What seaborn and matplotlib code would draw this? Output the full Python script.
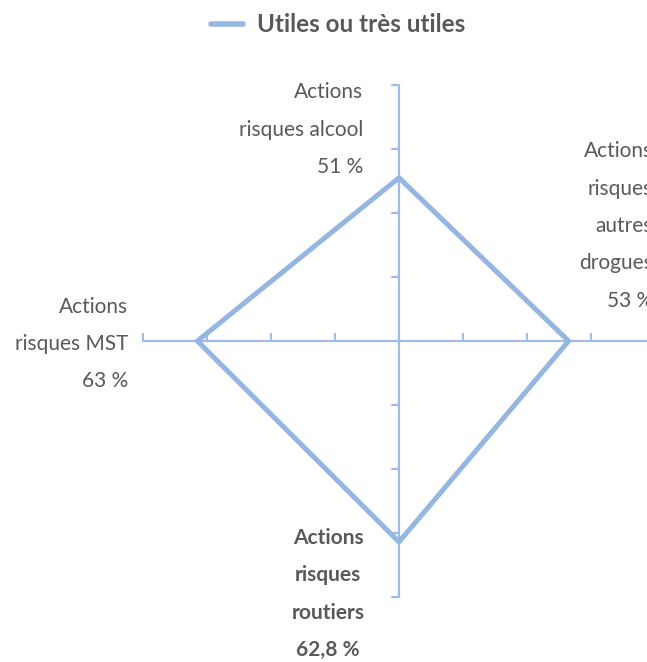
import matplotlib as mpl
import matplotlib.pyplot as plt
import seaborn as sns
import pandas as pd
import numpy as np

categories = ['Actions risques alcool', 'Actions risques autres drogues',
              'Actions risques routiers', 'Actions risques MST']
values = [51, 53, 62.8, 63]
value_labels = ['51 %', '53 %', '62,8 %', '63 %']
series_name = 'Utiles ou très utiles'
axis_max = 80
tick_step = 20

sns.set_theme(style='white')
plt.rcParams['font.family'] = ['Lato', 'DejaVu Sans']

BLUE = '#94b6e0'
AXIS = '#9dbde6'
GREY = '#595959'

W, H = 647, 662
CX, CY = 399, 341          # centre of the radar, pixels from top-left
PX = 3.2                   # pixels per percent

fig = plt.figure(figsize=(W / 100, H / 100), dpi=100)
ax = fig.add_axes([0, 0, 1, 1])
ax.set_xlim(-CX / PX, (W - CX) / PX)
ax.set_ylim(-(H - CY) / PX, CY / PX)
ax.set_axis_off()

def px(x, y):
  return (x - CX) / PX, (CY - y) / PX

# radar axes (clockwise from top)
angles = np.pi / 2 - np.arange(len(categories)) * 2 * np.pi / len(categories)
for a in angles:
  ex, ey = axis_max * np.cos(a), axis_max * np.sin(a)
  ax.plot([0, ex], [0, ey], color=AXIS, lw=1.6, zorder=1, solid_capstyle='butt')
  for t in np.arange(tick_step, axis_max + 1, tick_step):
    tx, ty = t * np.cos(a), t * np.sin(a)
    if abs(np.cos(a)) < 0.5:   # vertical axis -> tick to the left
      ax.plot([tx - 7 / PX, tx], [ty, ty], color=AXIS, lw=1.6, zorder=1)
    else:                      # horizontal axis -> tick upward
      ax.plot([tx, tx], [ty, ty + 7 / PX], color=AXIS, lw=1.6, zorder=1)

df = pd.DataFrame({'cat': categories + categories[:1],
                   'val': values + values[:1],
                   'ang': np.append(angles, angles[0])})
df['x'] = df['val'] * np.cos(df['ang'])
df['y'] = df['val'] * np.sin(df['ang'])
sns.lineplot(data=df, x='x', y='y', sort=False, estimator=None, color=BLUE,
             lw=3.6, ax=ax, label=series_name, zorder=3)

leg = ax.legend(loc='center', bbox_to_anchor=(0.522, 1 - 25 / H), frameon=False,
                handlelength=1.35, handletextpad=0.55,
                prop={'size': 17.5, 'weight': 'bold'})
for t in leg.get_texts():
  t.set_color(GREY)
for h in leg.get_lines():
  h.set_linewidth(4)

def label(i, xpix, ypix, ha, bold=False):
  words = categories[i].split(' ')
  if i == 0:
    lines = [words[0], ' '.join(words[1:])]
  elif i == 3:
    lines = [words[0], ' '.join(words[1:])]
  else:
    lines = words
  lines = lines + [value_labels[i]]
  x, y = px(xpix, ypix)
  ax.text(x, y, '\n'.join(lines), ha=ha, va='center', multialignment=ha,
          fontsize=15, linespacing=2.09, color=GREY,
          fontweight='bold' if bold else 'normal')

label(0, 363, 129.5, 'right')
label(1, 653, 226, 'right')
label(2, 328, 594, 'center', bold=True)
label(3, 128, 344, 'right')

plt.savefig('out.png', dpi=100)
